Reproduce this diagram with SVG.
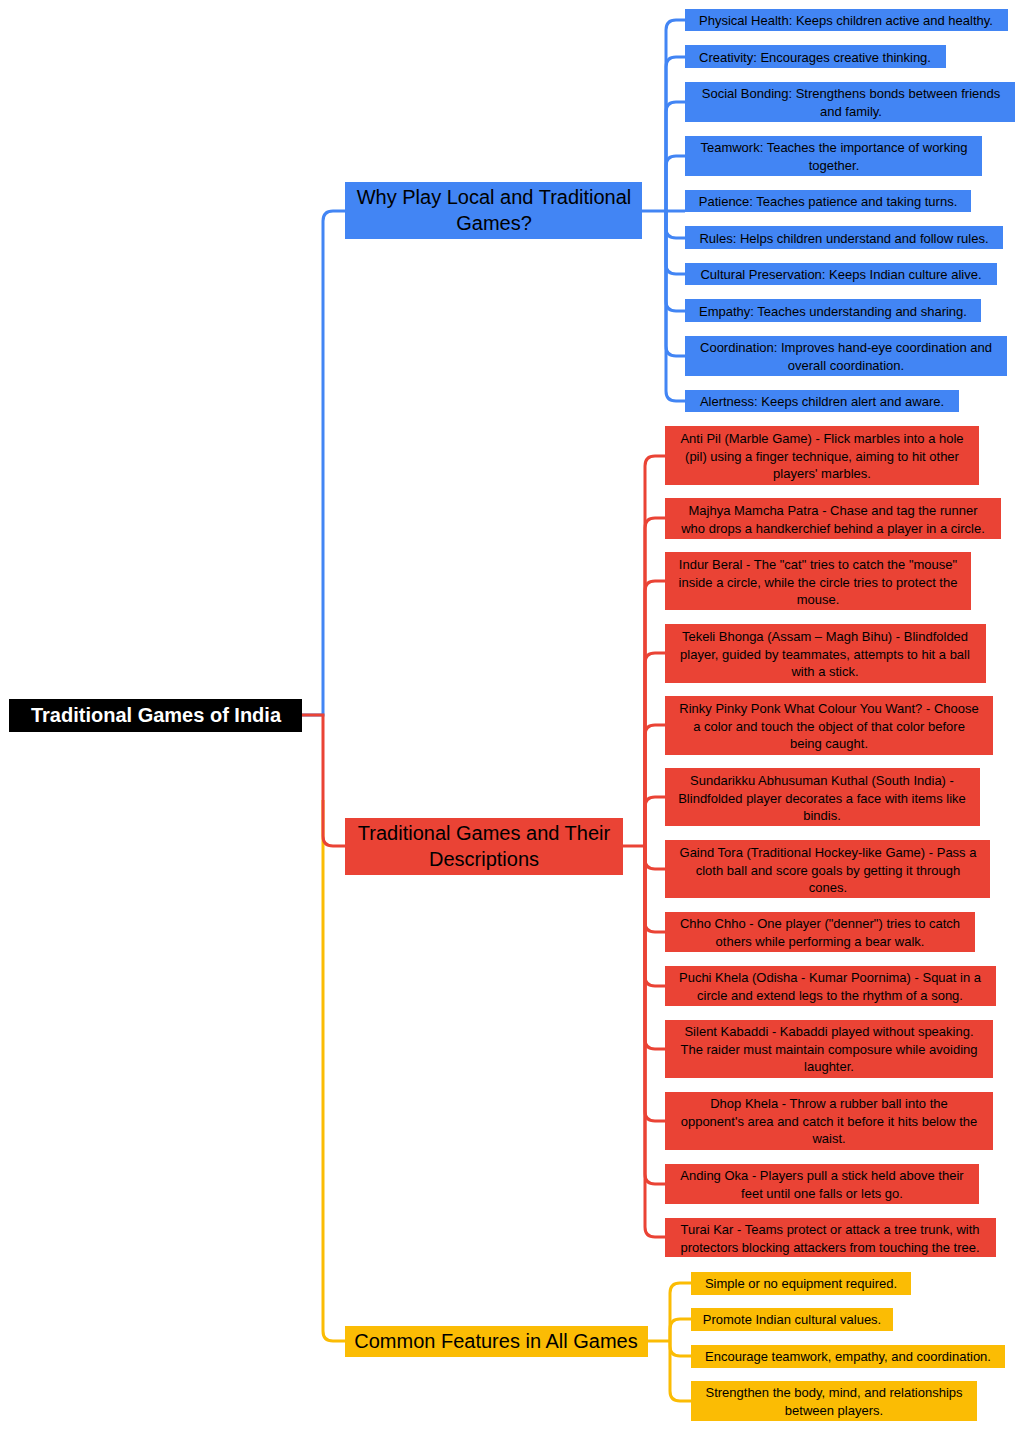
<svg xmlns="http://www.w3.org/2000/svg" width="1024" height="1431" viewBox="0 0 1024 1431">
<style>
text{font-family:"Liberation Sans",Arial,sans-serif;fill:#000;text-anchor:middle}
.c{font-size:13px}
.p{font-size:20px}
.b{fill:#4285F4}.r{fill:#EA4335}.y{fill:#FBBC04}
.lb{stroke:#4285F4}.lr{stroke:#EA4335}.ly{stroke:#FBBC04}
path{fill:none;stroke-width:3}
</style>
<rect width="1024" height="1431" fill="#fff"/>
<g id="connectors">
<path class="lb" d="M302,715 H323 V221 Q323,211 333,211 H345"/>
<path class="ly" d="M323,800 V1331 Q323,1341 333,1341 H345"/>
<path class="lr" d="M302,715 H323 V836 Q323,846 333,846 H345"/>
<g class="lb">
<path d="M642,211 H666"/>
<path d="M666,211 V30 Q666,20 676,20 H685"/>
<path d="M666,211 V67 Q666,57 676,57 H685"/>
<path d="M666,211 V112 Q666,102 676,102 H685"/>
<path d="M666,211 V166 Q666,156 676,156 H685"/>
<path d="M666,211 V211 H685"/>
<path d="M666,211 V228 Q666,238 676,238 H685"/>
<path d="M666,211 V264 Q666,274 676,274 H685"/>
<path d="M666,211 V301 Q666,311 676,311 H685"/>
<path d="M666,211 V346 Q666,356 676,356 H685"/>
<path d="M666,211 V391 Q666,401 676,401 H685"/>
</g>
<g class="lr">
<path d="M623,846 H645"/>
<path d="M645,846 V466 Q645,456 655,456 H665"/>
<path d="M645,846 V528 Q645,518 655,518 H665"/>
<path d="M645,846 V591 Q645,581 655,581 H665"/>
<path d="M645,846 V663 Q645,653 655,653 H665"/>
<path d="M645,846 V735 Q645,725 655,725 H665"/>
<path d="M645,846 V807 Q645,797 655,797 H665"/>
<path d="M645,846 V859 Q645,869 655,869 H665"/>
<path d="M645,846 V922 Q645,932 655,932 H665"/>
<path d="M645,846 V976 Q645,986 655,986 H665"/>
<path d="M645,846 V1039 Q645,1049 655,1049 H665"/>
<path d="M645,846 V1111 Q645,1121 655,1121 H665"/>
<path d="M645,846 V1174 Q645,1184 655,1184 H665"/>
<path d="M645,846 V1227 Q645,1237 655,1237 H665"/>
</g>
<g class="ly">
<path d="M648,1341 H670"/>
<path d="M670,1341 V1293 Q670,1283 680,1283 H691"/>
<path d="M670,1341 V1329 Q670,1319 680,1319 H691"/>
<path d="M670,1341 V1346 Q670,1356 680,1356 H691"/>
<path d="M670,1341 V1391 Q670,1401 680,1401 H691"/>
</g>
</g>
<g id="root"><rect x="9" y="699" width="293" height="33" fill="#000"/><text x="156" y="722" style="font-size:20px;font-weight:bold;fill:#fff">Traditional Games of India</text></g>
<g id="why"><rect class="b" x="345" y="182" width="297" height="57"/><text class="p" x="494" y="204">Why Play Local and Traditional</text><text class="p" x="494" y="230">Games?</text></g>
<g id="games"><rect class="r" x="345" y="818" width="278" height="57"/><text class="p" x="484" y="840">Traditional Games and Their</text><text class="p" x="484" y="866">Descriptions</text></g>
<g id="common"><rect class="y" x="345" y="1326" width="303" height="31"/><text class="p" x="496" y="1348">Common Features in All Games</text></g>

<g id="b1"><rect class="b" x="685" y="9" width="323" height="22"/><text class="c" x="846" y="25">Physical Health: Keeps children active and healthy.</text></g>
<g id="b2"><rect class="b" x="685" y="45" width="261" height="23"/><text class="c" x="815" y="62">Creativity: Encourages creative thinking.</text></g>
<g id="b3"><rect class="b" x="685" y="82" width="330" height="40"/><text class="c" x="851" y="98">Social Bonding: Strengthens bonds between friends</text><text class="c" x="851" y="116">and family.</text></g>
<g id="b4"><rect class="b" x="685" y="136" width="297" height="40"/><text class="c" x="834" y="152">Teamwork: Teaches the importance of working</text><text class="c" x="834" y="170">together.</text></g>
<g id="b5"><rect class="b" x="685" y="190" width="286" height="22"/><text class="c" x="828" y="206">Patience: Teaches patience and taking turns.</text></g>
<g id="b6"><rect class="b" x="685" y="226" width="318" height="23"/><text class="c" x="844" y="243">Rules: Helps children understand and follow rules.</text></g>
<g id="b7"><rect class="b" x="685" y="263" width="312" height="22"/><text class="c" x="841" y="279">Cultural Preservation: Keeps Indian culture alive.</text></g>
<g id="b8"><rect class="b" x="685" y="299" width="296" height="23"/><text class="c" x="833" y="316">Empathy: Teaches understanding and sharing.</text></g>
<g id="b9"><rect class="b" x="685" y="336" width="322" height="40"/><text class="c" x="846" y="352">Coordination: Improves hand-eye coordination and</text><text class="c" x="846" y="370">overall coordination.</text></g>
<g id="b10"><rect class="b" x="685" y="390" width="274" height="22"/><text class="c" x="822" y="406">Alertness: Keeps children alert and aware.</text></g>

<g id="r1"><rect class="r" x="665" y="426" width="314" height="59"/><text class="c" x="822" y="443">Anti Pil (Marble Game) - Flick marbles into a hole</text><text class="c" x="822" y="461">(pil) using a finger technique, aiming to hit other</text><text class="c" x="822" y="478">players' marbles.</text></g>
<g id="r2"><rect class="r" x="665" y="498" width="336" height="41"/><text class="c" x="833" y="515">Majhya Mamcha Patra - Chase and tag the runner</text><text class="c" x="833" y="533">who drops a handkerchief behind a player in a circle.</text></g>
<g id="r3"><rect class="r" x="665" y="552" width="306" height="58"/><text class="c" x="818" y="569">Indur Beral - The "cat" tries to catch the "mouse"</text><text class="c" x="818" y="587">inside a circle, while the circle tries to protect the</text><text class="c" x="818" y="604">mouse.</text></g>
<g id="r4"><rect class="r" x="665" y="624" width="321" height="59"/><text class="c" x="825" y="641">Tekeli Bhonga (Assam – Magh Bihu) - Blindfolded</text><text class="c" x="825" y="659">player, guided by teammates, attempts to hit a ball</text><text class="c" x="825" y="676">with a stick.</text></g>
<g id="r5"><rect class="r" x="665" y="696" width="328" height="59"/><text class="c" x="829" y="713">Rinky Pinky Ponk What Colour You Want? - Choose</text><text class="c" x="829" y="731">a color and touch the object of that color before</text><text class="c" x="829" y="748">being caught.</text></g>
<g id="r6"><rect class="r" x="665" y="768" width="315" height="58"/><text class="c" x="822" y="785">Sundarikku Abhusuman Kuthal (South India) -</text><text class="c" x="822" y="803">Blindfolded player decorates a face with items like</text><text class="c" x="822" y="820">bindis.</text></g>
<g id="r7"><rect class="r" x="665" y="840" width="325" height="58"/><text class="c" x="828" y="857">Gaind Tora (Traditional Hockey-like Game) - Pass a</text><text class="c" x="828" y="875">cloth ball and score goals by getting it through</text><text class="c" x="828" y="892">cones.</text></g>
<g id="r8"><rect class="r" x="665" y="912" width="310" height="40"/><text class="c" x="820" y="928">Chho Chho - One player ("denner") tries to catch</text><text class="c" x="820" y="946">others while performing a bear walk.</text></g>
<g id="r9"><rect class="r" x="665" y="966" width="331" height="40"/><text class="c" x="830" y="982">Puchi Khela (Odisha - Kumar Poornima) - Squat in a</text><text class="c" x="830" y="1000">circle and extend legs to the rhythm of a song.</text></g>
<g id="r10"><rect class="r" x="665" y="1020" width="328" height="58"/><text class="c" x="829" y="1036">Silent Kabaddi - Kabaddi played without speaking.</text><text class="c" x="829" y="1054">The raider must maintain composure while avoiding</text><text class="c" x="829" y="1071">laughter.</text></g>
<g id="r11"><rect class="r" x="665" y="1092" width="328" height="58"/><text class="c" x="829" y="1108">Dhop Khela - Throw a rubber ball into the</text><text class="c" x="829" y="1126">opponent's area and catch it before it hits below the</text><text class="c" x="829" y="1143">waist.</text></g>
<g id="r12"><rect class="r" x="665" y="1164" width="314" height="40"/><text class="c" x="822" y="1180">Anding Oka - Players pull a stick held above their</text><text class="c" x="822" y="1198">feet until one falls or lets go.</text></g>
<g id="r13"><rect class="r" x="665" y="1218" width="331" height="39"/><text class="c" x="830" y="1234">Turai Kar - Teams protect or attack a tree trunk, with</text><text class="c" x="830" y="1252">protectors blocking attackers from touching the tree.</text></g>

<g id="y1"><rect class="y" x="691" y="1272" width="220" height="23"/><text class="c" x="801" y="1288">Simple or no equipment required.</text></g>
<g id="y2"><rect class="y" x="691" y="1308" width="202" height="23"/><text class="c" x="792" y="1324">Promote Indian cultural values.</text></g>
<g id="y3"><rect class="y" x="691" y="1345" width="314" height="23"/><text class="c" x="848" y="1361">Encourage teamwork, empathy, and coordination.</text></g>
<g id="y4"><rect class="y" x="691" y="1381" width="286" height="40"/><text class="c" x="834" y="1397">Strengthen the body, mind, and relationships</text><text class="c" x="834" y="1415">between players.</text></g>
</svg>
